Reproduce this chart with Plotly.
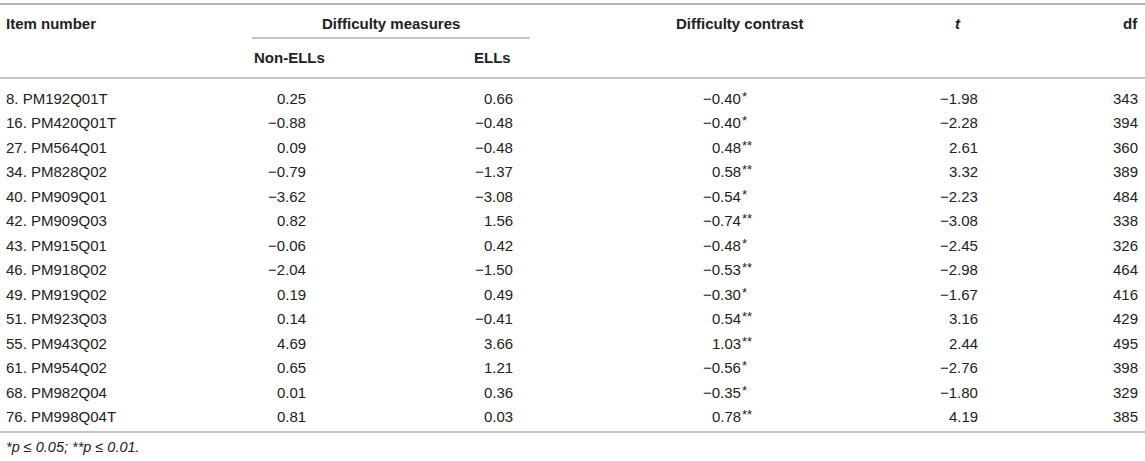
import plotly.graph_objects as go

# ---- data ----
items = ["8. PM192Q01T", "16. PM420Q01T", "27. PM564Q01", "34. PM828Q02",
         "40. PM909Q01", "42. PM909Q03", "43. PM915Q01", "46. PM918Q02",
         "49. PM919Q02", "51. PM923Q03", "55. PM943Q02", "61. PM954Q02",
         "68. PM982Q04", "76. PM998Q04T"]
non_ells = [0.25, -0.88, 0.09, -0.79, -3.62, 0.82, -0.06, -2.04, 0.19, 0.14, 4.69, 0.65, 0.01, 0.81]
ells = [0.66, -0.48, -0.48, -1.37, -3.08, 1.56, 0.42, -1.50, 0.49, -0.41, 3.66, 1.21, 0.36, 0.03]
contrast = [-0.40, -0.40, 0.48, 0.58, -0.54, -0.74, -0.48, -0.53, -0.30, 0.54, 1.03, -0.56, -0.35, 0.78]
signif = ["*", "*", "**", "**", "*", "**", "*", "**", "*", "**", "**", "*", "*", "**"]
t_vals = [-1.98, -2.28, 2.61, 3.32, -2.23, -3.08, -2.45, -2.98, -1.67, 3.16, 2.44, -2.76, -1.80, 4.19]
df_vals = [343, 394, 360, 389, 484, 338, 326, 464, 416, 429, 495, 398, 329, 385]

header_top = ["Item number", "Difficulty measures", "Difficulty contrast", "<i>t</i>", "df"]
header_sub = ["Non-ELLs", "ELLs"]
footnote = "<i>*p ≤ 0.05; **p ≤ 0.01.</i>"

# ---- layout constants ----
W, H = 1145, 461
FONT = "Liberation Sans, Arial, sans-serif"
TXT = "#222222"
LINE = "#b0b0b0"
ROW0, ROWH = 98, 24.5
X_ITEM, X_NON, X_ELL, X_CON, X_T, X_DF = 4, 308, 515, 743, 980, 1140


def fmt(v):
    return f"{v:.2f}".replace("-", "\u2212")


anns = []


def add(text, x, y, anchor, size=15, bold=False):
    if bold:
        text = f"<b>{text}</b>"
    anns.append(dict(text=text, x=x, y=y, xref="x", yref="y", xanchor=anchor,
                     yanchor="middle", showarrow=False,
                     font=dict(family=FONT, size=size, color=TXT)))


# headers
add(header_top[0], X_ITEM, 23, "left", bold=True)
add(header_top[1], 391, 23, "center", bold=True)
add(header_top[2], 674, 23, "left", bold=True)
add(header_top[3], 958, 23, "center", bold=True)
add(header_top[4], X_DF, 23, "right", bold=True)
add(header_sub[0], 252, 57, "left", bold=True)
add(header_sub[1], 513, 57, "right", bold=True)

# body
for i in range(len(items)):
    y = ROW0 + i * ROWH
    add(items[i], X_ITEM, y, "left")
    add(fmt(non_ells[i]), X_NON, y, "right")
    add(fmt(ells[i]), X_ELL, y, "right")
    add(fmt(contrast[i]), X_CON, y, "right")
    add(signif[i], X_CON - 3, y - 2, "left", size=13)
    add(fmt(t_vals[i]), X_T, y, "right")
    add(str(df_vals[i]), X_DF, y, "right")

add(footnote, X_ITEM, 447, "left", size=14.5)

shapes = [
    dict(type="line", xref="x", yref="y", x0=0, x1=W, y0=4, y1=4, line=dict(color=LINE, width=2)),
    dict(type="line", xref="x", yref="y", x0=252, x1=530, y0=38, y1=38, line=dict(color=LINE, width=1.5)),
    dict(type="line", xref="x", yref="y", x0=0, x1=W, y0=78, y1=78, line=dict(color=LINE, width=1.5)),
    dict(type="line", xref="x", yref="y", x0=0, x1=W, y0=432, y1=432, line=dict(color=LINE, width=1.5)),
]

fig = go.Figure()
fig.add_trace(go.Scatter(x=[0, W], y=[0, H], mode="markers", marker=dict(opacity=0),
                         hoverinfo="skip", showlegend=False))
fig.update_layout(
    width=W, height=H, margin=dict(l=0, r=0, t=0, b=0),
    paper_bgcolor="white", plot_bgcolor="white",
    xaxis=dict(range=[0, W], visible=False, fixedrange=True),
    yaxis=dict(range=[H, 0], visible=False, fixedrange=True),
    annotations=anns, shapes=shapes, showlegend=False,
)
fig.write_html("out.html", config={"displayModeBar": False},
               post_script="document.body.style.margin='0';document.body.style.overflow='hidden';")
